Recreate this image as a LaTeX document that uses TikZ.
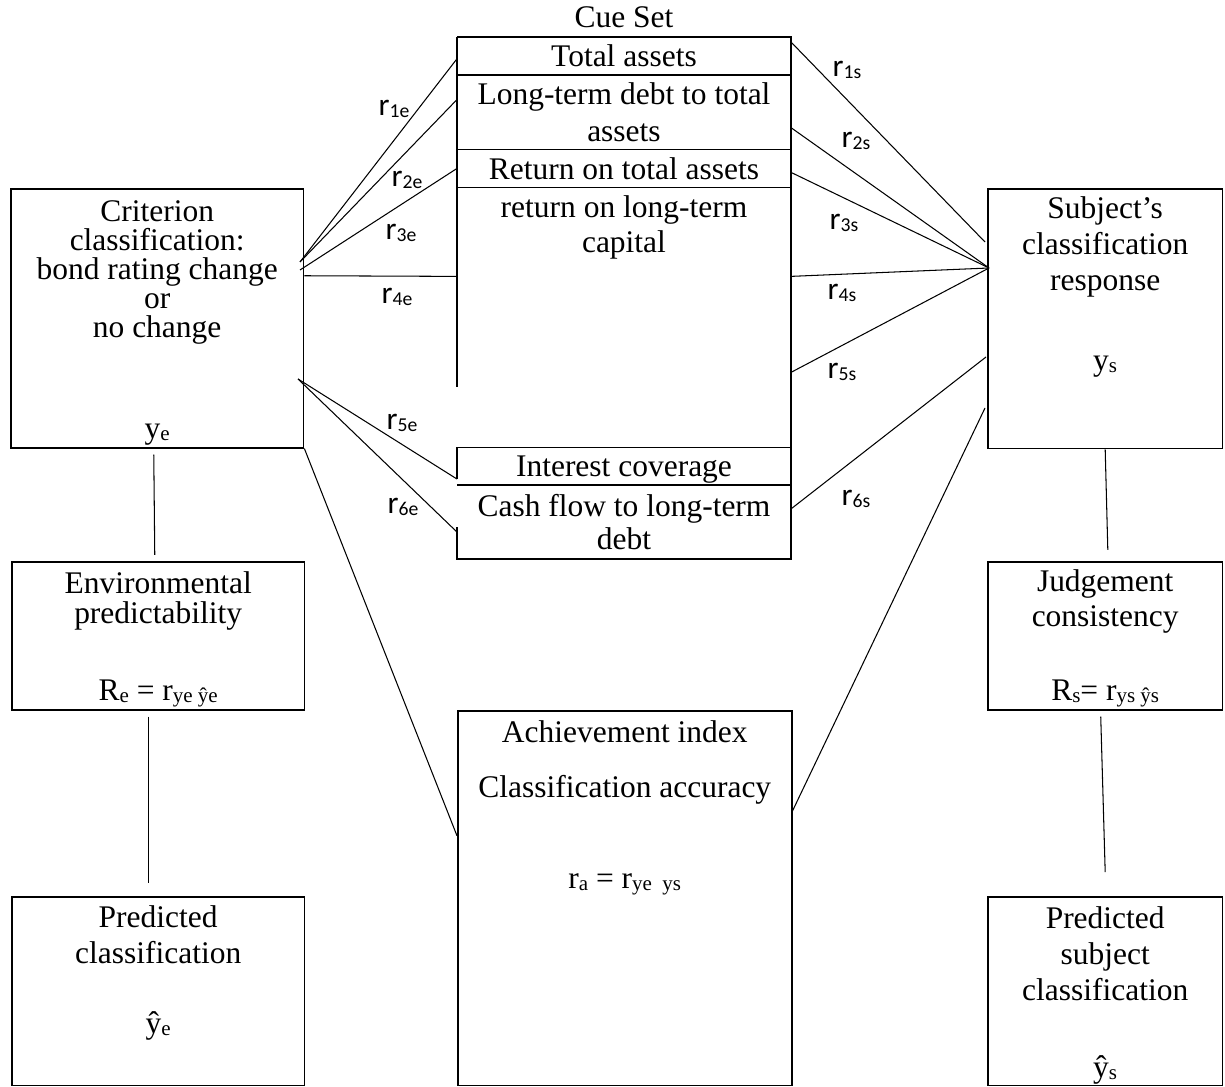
\documentclass[tikz,border=0pt]{standalone}
\usepackage{fontspec}
\setmainfont{Liberation Serif}
\newfontfamily\calfont{Carlito}
\usepackage{tikz}
\usetikzlibrary{positioning, calc}
\tikzstyle{box} = [rectangle, draw, line width=0.6pt, inner sep=0pt, anchor=north west, align=center]
\tikzstyle{cell} = [rectangle, inner sep=0pt, outer sep=0pt, minimum width=127.3pt, align=center]
\tikzstyle{frame} = [draw, line width=0.6pt]
\tikzstyle{line} = [draw, line width=0.4pt]
\tikzstyle{rlab} = [inner sep=0pt, font=\calfont\fontsize{12}{12}\selectfont]
\newcommand{\lowsub}[1]{\raisebox{-0.6pt}{\fontsize{8}{8}\selectfont #1}}
\newcommand{\corr}[1]{r\raisebox{-1pt}{\fontsize{7.5}{7.5}\selectfont #1}}

\begin{document}
\begin{tikzpicture}[x=0.01339cm, y=-0.01339cm, font=\fontsize{12}{13.5}\selectfont]
        \useasboundingbox (0,0) rectangle (1225,1087);
        % Environment side
        \node (crit) [box, minimum width=111.6pt, text height=95.3pt, text depth=3.4pt, font=\fontsize{12}{11}\selectfont] at (10,188) {Criterion\\classification:\\bond rating change\\or\\no change\\[27.8pt]y\lowsub{e}};
        \node (env) [box, minimum width=111.6pt, text height=53pt, text depth=3.4pt, font=\fontsize{12}{11.8}\selectfont] at (11,561) {Environmental\\predictability\\[17.5pt]R\lowsub{e} = r\lowsub{ye ŷe}};
        \node (pred) [box, minimum width=111.6pt, text height=52.2pt, text depth=19.8pt, font=\fontsize{12}{13.7}\selectfont] at (11,896) {Predicted\\classification\\[13pt]ŷ\lowsub{e}};
        % Subject side
        \node (subj) [box, minimum width=89.5pt, text height=69.3pt, text depth=29.7pt, font=\fontsize{12}{13.7}\selectfont] at (987,188) {Subject’s\\classification\\response\\[16.8pt]y\lowsub{s}};
        \node (judg) [box, minimum width=89.5pt, text height=53pt, text depth=3.4pt, font=\fontsize{12}{13.3}\selectfont] at (987,561) {Judgement\\consistency\\[15.2pt]R\lowsub{s}= r\lowsub{ys ŷs}};
        \node (psub) [box, minimum width=89.5pt, text height=69pt, text depth=3pt, font=\fontsize{12}{13.9}\selectfont] at (987,896) {Predicted\\subject\\classification\\[15.4pt]ŷ\lowsub{s}};
        % Achievement
        \node (ach) [box, minimum width=127.3pt, text height=67.8pt, text depth=75.1pt] at (457,710) {Achievement index\\[7.5pt]Classification accuracy\\[21.2pt]r\lowsub{a} = r\lowsub{ye\ \ ys}};
        % Cue set
        \node (tot) [cell, anchor=north west, text height=11.4pt, text depth=3pt] at (457,37) {Total assets};
        \node (ltd) [cell, below=0pt of tot, text height=25.5pt, text depth=3pt, font=\fontsize{12}{14.1}\selectfont] {Long-term debt to total\\assets};
        \node (rota) [cell, below=0pt of ltd, text height=11.4pt, text depth=3pt] {Return on total assets};
        \node (rolc) [cell, below=0pt of rota, text height=24.8pt, text depth=74.3pt, font=\fontsize{12}{13.3}\selectfont] {return on long-term\\capital};
        \node (intc) [cell, below=0pt of rolc, text height=11pt, text depth=3.4pt] {Interest coverage};
        \node (cfl) [cell, below=0pt of intc, text height=24.4pt, text depth=3.8pt, font=\fontsize{12}{12.6}\selectfont] {Cash flow to long-term\\debt};
        \node (cueset) [above=3.4pt of tot, inner sep=0pt] {Cue Set};
        \path [frame] (tot.north west) -- (tot.north east) -- (cfl.south east) -- (cfl.south west) -- ++(0,-32);
        \path [frame] (tot.north west) -- (rolc.north west) -- ++(0,200);
        \path [frame] (intc.north west) -- ++(0,32);
        \path [frame] (ltd.north west) -- (ltd.north east);
        \path [frame] (rota.north west) -- (rota.north east);
        \path [frame] (rolc.north west) -- (rolc.north east);
        \path [frame] (intc.north west) -- (intc.north east);
        \path [frame] (cfl.north west) -- (cfl.north east);
        % Hubs
        \coordinate (ehubA) at (300,262);
        \coordinate (ehubB) at (300,270);
        \coordinate (ehubC) at (298,379);
        \coordinate (shubA) at (985,242);
        \coordinate (shubB) at (989,268);
        \coordinate (shubC) at (986,357);
        \coordinate (shubD) at (985,408);
        % Edges
        \path [line] (ehubA) -- ([yshift=-1.1pt]tot.west);
        \path [line] (ehubA) -- ([yshift=4.8pt]ltd.west);
        \path [line] (ehubB) -- (rota.west);
        \path [line] ([yshift=16.2pt]crit.east) -- ([yshift=15.6pt]rolc.west);
        \path [line] (ehubC) -- ([yshift=2.3pt]intc.south west);
        \path [line] (ehubC) -- ([yshift=-3.8pt]cfl.west);
        \path [line] ([yshift=5.3pt]tot.east) -- (shubA);
        \path [line] ([yshift=-5.9pt]ltd.east) -- (shubB);
        \path [line] ([yshift=-1.5pt]rota.east) -- (shubB);
        \path [line] ([yshift=15.6pt]rolc.east) -- (shubB);
        \path [line] ([yshift=-21pt]rolc.east) -- (shubB);
        \path [line] ([yshift=5pt]cfl.east) -- (shubC);
        \path [line] (crit.south east) -- ([yshift=23.8pt]ach.west);
        \path [line] ([yshift=33.3pt]ach.east) -- (shubD);
        \path [line] ([xshift=-1.3pt,yshift=-2.3pt]crit.south) -- ([xshift=-1.3pt,yshift=2.3pt]env.north);
        \path [line] ([xshift=-3.6pt,yshift=-2.3pt]env.south) -- ([xshift=-3.6pt,yshift=5pt]pred.north);
        \path [line] (subj.south) -- ([xshift=1pt,yshift=4.2pt]judg.north);
        \path [line] ([xshift=-1.7pt,yshift=-2.3pt]judg.south) -- ([yshift=9.1pt]psub.north);
        % Correlation labels
        \node (l1e) [rlab] at (394,109) {\corr{1e}};
        \node (l2e) [rlab] at (407,180) {\corr{2e}};
        \node (l3e) [rlab] at (401,233) {\corr{3e}};
        \node (l4e) [rlab] at (397,297) {\corr{4e}};
        \node (l5e) [rlab] at (402,423) {\corr{5e}};
        \node (l6e) [rlab] at (403,507) {\corr{6e}};
        \node (l1s) [rlab] at (847,70) {\corr{1s}};
        \node (l2s) [rlab] at (856,141) {\corr{2s}};
        \node (l3s) [rlab] at (844,223) {\corr{3s}};
        \node (l4s) [rlab] at (842,293) {\corr{4s}};
        \node (l5s) [rlab] at (842,372) {\corr{5s}};
        \node (l6s) [rlab] at (856,499) {\corr{6s}};
\end{tikzpicture}
\end{document}
